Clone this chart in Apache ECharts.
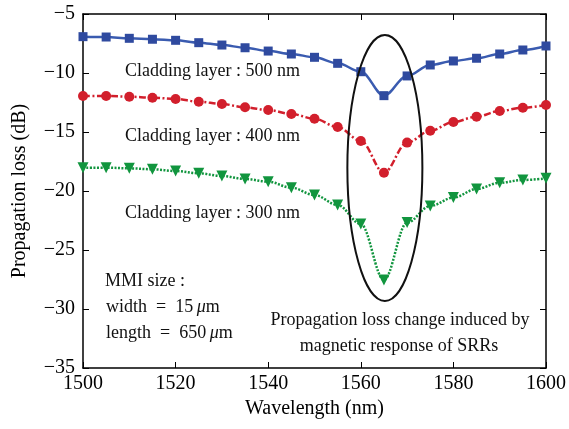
<!DOCTYPE html>
<html>
<head>
<meta charset="utf-8">
<script src="https://cdn.jsdelivr.net/npm/echarts@6/dist/echarts.min.js"></script>
<style>html,body{margin:0;padding:0;background:#fff}#c{width:569px;height:429px}</style>
</head>
<body>
<div id="c"></div>
<script>
const wavelengths = [1500,1505,1510,1515,1520,1525,1530,1535,1540,1545,1550,1555,1560,1565,1570,1575,1580,1585,1590,1595,1600];
const loss500 = [-6.92,-6.95,-7.06,-7.14,-7.23,-7.43,-7.63,-7.86,-8.14,-8.39,-8.67,-9.18,-9.89,-11.92,-10.25,-9.32,-8.98,-8.75,-8.39,-8.05,-7.71];
const loss400 = [-11.95,-11.95,-12.01,-12.09,-12.2,-12.43,-12.63,-12.91,-13.14,-13.47,-13.88,-14.58,-15.76,-18.45,-15.9,-14.9,-14.15,-13.7,-13.22,-12.94,-12.71];
const loss300 = [-18.02,-18.02,-18.08,-18.16,-18.31,-18.5,-18.73,-18.98,-19.21,-19.72,-20.34,-21.19,-22.8,-27.54,-22.68,-21.27,-20.56,-19.83,-19.3,-19.07,-18.93];
const xTicks = [1500,1520,1540,1560,1580,1600];
const yTicks = [-35,-30,-25,-20,-15,-10,-5];
const ellipseData = {cx:1565.2, cy:-18.05, rx:8.1, ry:11.27};

const FONT = '"Liberation Serif", "Times New Roman", serif';
const chart = echarts.init(document.getElementById('c'), null, {renderer:'canvas'});
const pair = arr => wavelengths.map((w,i)=>[w,arr[i]]);
const fmtY = v => (v<0 ? '\u2212' + Math.abs(v) : String(v));
const fmtX = v => String(v);

const axisCommon = {
  axisLine:{show:true, lineStyle:{color:'#000', width:1.5}},
  axisTick:{show:true, inside:true, length:6, lineStyle:{color:'#000', width:1}},
  splitLine:{show:false}
};

const option = {
  animation:false,
  backgroundColor:'#fff',
  grid:{left:83, right:23, top:14, bottom:61, containLabel:false},
  xAxis:[
    Object.assign({}, axisCommon, {
      type:'value', min:xTicks[0], max:xTicks[xTicks.length-1], interval:20, position:'bottom',
      name:'Wavelength (nm)', nameLocation:'middle', nameGap:31,
      nameTextStyle:{fontFamily:FONT, fontSize:20, color:'#000'},
      axisLabel:{fontFamily:FONT, fontSize:20, color:'#000', margin:6, formatter:fmtX}
    }),
    Object.assign({}, axisCommon, {
      type:'value', min:xTicks[0], max:xTicks[xTicks.length-1], interval:20, position:'top',
      axisLabel:{show:false}
    })
  ],
  yAxis:[
    Object.assign({}, axisCommon, {
      type:'value', min:yTicks[0], max:yTicks[yTicks.length-1], interval:5, position:'left',
      name:'Propagation loss (dB)', nameLocation:'middle', nameGap:53, nameRotate:90,
      nameTextStyle:{fontFamily:FONT, fontSize:20, color:'#000'},
      axisLabel:{fontFamily:FONT, fontSize:20, color:'#000', margin:8, formatter:fmtY}
    }),
    Object.assign({}, axisCommon, {
      type:'value', min:yTicks[0], max:yTicks[yTicks.length-1], interval:5, position:'right',
      axisLabel:{show:false}
    })
  ],
  series:[
    {type:'line', name:'500', data:pair(loss500), smooth:0.35, smoothMonotone:'x',
     symbol:'rect', symbolSize:9, itemStyle:{color:'#2f4a9f'},
     lineStyle:{color:'#3a5bb0', width:2.5, type:'solid'}},
    {type:'line', name:'400', data:pair(loss400), smooth:0.35, smoothMonotone:'x',
     symbol:'circle', symbolSize:10, itemStyle:{color:'#d21f2c'},
     lineStyle:{color:'#d21f2c', width:2.5, type:[7,2.5,2,2.5]}},
    {type:'line', name:'300', data:pair(loss300), smooth:0.35, smoothMonotone:'x',
     symbol:'triangle', symbolRotate:180, symbolSize:11, itemStyle:{color:'#11953e'},
     lineStyle:{color:'#11953e', width:2.5, type:[2,1.5]}}
  ]
};
chart.setOption(option);

const c = chart.convertToPixel({xAxisIndex:0, yAxisIndex:0}, [ellipseData.cx, ellipseData.cy]);
const e = chart.convertToPixel({xAxisIndex:0, yAxisIndex:0}, [ellipseData.cx + ellipseData.rx, ellipseData.cy + ellipseData.ry]);

const txt = (text, x, y, align) => ({
  type:'text', x:x, y:y, z:10,
  style:{text:text, font:'18px ' + FONT, fill:'#111', align:align||'left', verticalAlign:'middle'}
});
const richTxt = (a, x, y) => ({
  type:'text', x:x, y:y, z:10,
  style:{
    text:'{n|' + a + '}{i|\u03bc}{n|m}', align:'left', verticalAlign:'middle',
    rich:{
      n:{fontFamily:FONT, fontSize:18, fill:'#111', color:'#111'},
      i:{fontFamily:FONT, fontSize:18, fontStyle:'italic', fill:'#111', color:'#111'}
    }
  }
});

chart.setOption({
  graphic:[
    {type:'ellipse', z:5, shape:{cx:c[0], cy:c[1], rx:Math.abs(e[0]-c[0]), ry:Math.abs(c[1]-e[1])},
     style:{fill:'none', stroke:'#111', lineWidth:2}},
    txt('Cladding layer : 500 nm', 125, 71),
    txt('Cladding layer : 400 nm', 125, 136),
    txt('Cladding layer : 300 nm', 125, 213),
    txt('MMI size :', 105, 281),
    richTxt('width\u2002=\u200215\u2009', 106, 307),
    richTxt('length\u2002=\u2002650\u2009', 106, 333),
    txt('Propagation loss change induced by', 400, 320, 'center'),
    txt('magnetic response of SRRs', 399, 346, 'center')
  ]
});
</script>
</body>
</html>
